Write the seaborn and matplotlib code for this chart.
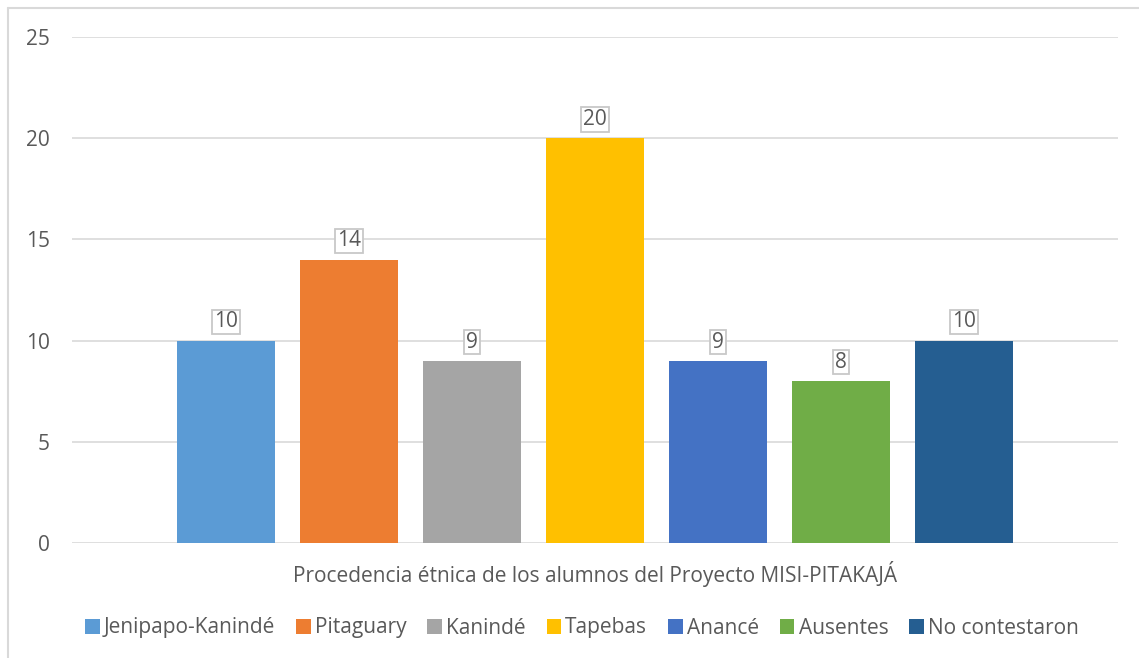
import matplotlib
matplotlib.use("Agg")
import matplotlib.pyplot as plt
from matplotlib.patches import Patch
from matplotlib.lines import Line2D
import seaborn as sns
import pandas as pd

# Student counts by ethnic origin
grupos = ["Jenipapo-Kanindé", "Pitaguary", "Kanindé", "Tapebas", "Anancé", "Ausentes", "No contestaron"]
alumnos = [10, 14, 9, 20, 9, 8, 10]
colores = ["#5B9BD5", "#ED7D31", "#A5A5A5", "#FFC000", "#4472C4", "#70AD47", "#255E91"]
titulo_eje = "Procedencia étnica de los alumnos del Proyecto MISI-PITAKAJÁ"
yticks = [0, 5, 10, 15, 20, 25]

sns.set_theme(style="white")
plt.rcParams["font.family"] = ["Open Sans", "DejaVu Sans"]
texto = "#595959"

df = pd.DataFrame({"grupo": grupos, "alumnos": alumnos})

fig = plt.figure(figsize=(11.39, 6.58), dpi=100)
ax = fig.add_axes([72 / 1139, 115 / 658, 1046 / 1139, 506 / 658])

sns.barplot(data=df, x="grupo", y="alumnos", hue="grupo", palette=colores,
            order=grupos, hue_order=grupos, dodge=False, width=0.79,
            saturation=1, legend=False, linewidth=0, ax=ax)

ax.set_xlim(-1.252, 7.252)
ax.set_ylim(0, 25)
ax.set_yticks(yticks)
ax.set_yticklabels([str(t) for t in yticks], fontsize=15, color=texto)
ax.tick_params(axis="y", length=0, pad=16)
ax.set_xticks([])
ax.set_xlabel(titulo_eje, fontsize=15, color=texto, labelpad=13)
ax.set_ylabel("")
ax.yaxis.grid(True, color="#d9d9d9", linewidth=1.2)
ax.set_axisbelow(True)
for s in ax.spines.values():
    s.set_visible(False)

# Value labels with thin boxes above each bar
for i, v in enumerate(alumnos):
    ax.annotate(str(v), xy=(i, v), xytext=(0, 6), textcoords="offset points",
                ha="center", va="bottom", fontsize=15, color=texto,
                bbox=dict(boxstyle="square,pad=0.08", fc="white", ec="#c8c8c8", lw=1.3))

# Legend along the bottom
handles = [Patch(facecolor=c, edgecolor="none") for c in colores]
fig.legend(handles, grupos, loc="center", bbox_to_anchor=(0.511, 1 - 628 / 658),
           ncol=len(grupos), frameon=False, fontsize=15, handlelength=0.7,
           handleheight=0.7, handletextpad=0.2, columnspacing=1.0,
           labelcolor=texto)

# Chart frame (left and top edges)
fig.add_artist(Line2D([8 / 1139, 8 / 1139], [0, 1 - 8 / 658], color="#d9d9d9", lw=1.5,
                      transform=fig.transFigure))
fig.add_artist(Line2D([8 / 1139, 1], [1 - 8 / 658, 1 - 8 / 658], color="#d9d9d9", lw=1.5,
                      transform=fig.transFigure))

fig.savefig("out.png", dpi=100, facecolor="white")
